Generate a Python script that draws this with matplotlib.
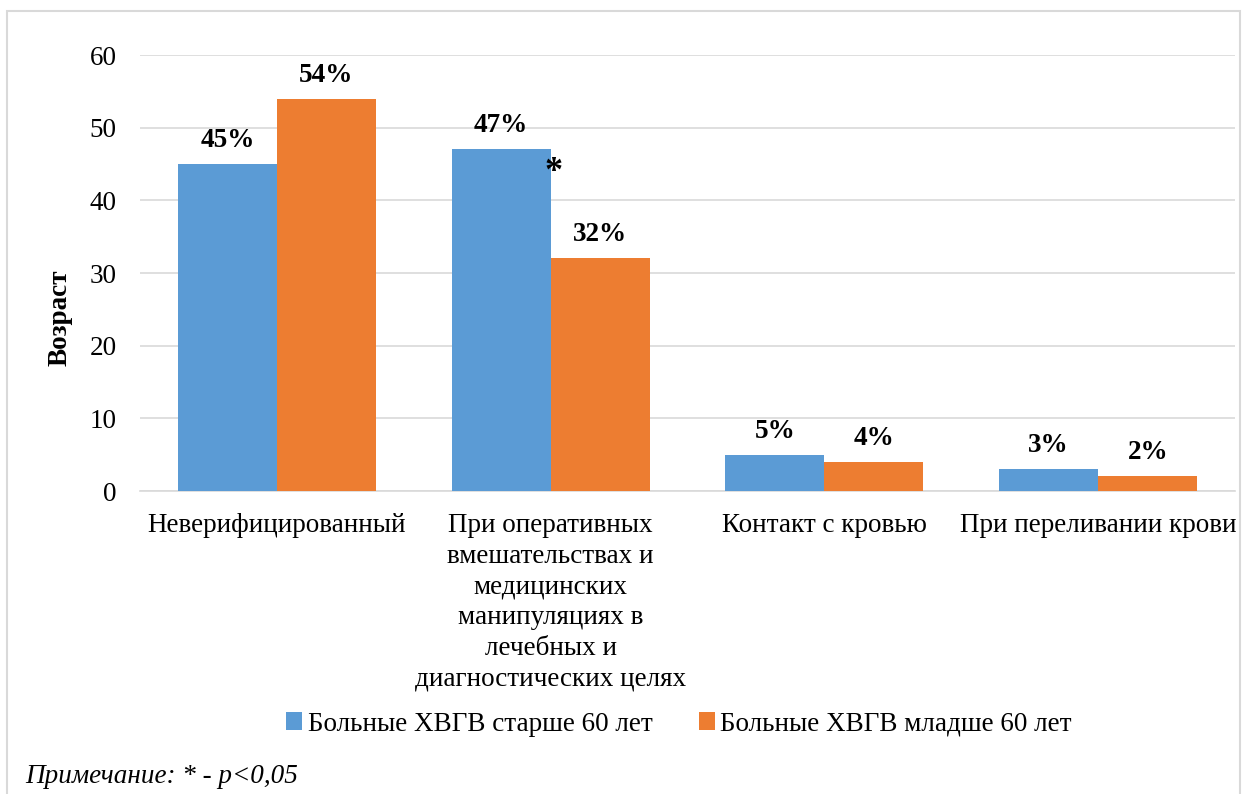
import numpy as np
import matplotlib.pyplot as plt
from matplotlib.patches import Rectangle

# data
categories = ['Неверифицированный',
              'При оперативных\nвмешательствах и\nмедицинских\nманипуляциях в\nлечебных и\nдиагностических целях',
              'Контакт с кровью',
              'При переливании крови']
older = [45, 47, 5, 3]
younger = [54, 32, 4, 2]
series_names = ['Больные ХВГВ старше 60 лет', 'Больные ХВГВ младше 60 лет']
yticks = [0, 10, 20, 30, 40, 50, 60]

blue = '#5b9bd5'
orange = '#ed7d31'
fs = 19.5

plt.rcParams['font.family'] = ['Liberation Serif', 'DejaVu Serif']

fig = plt.figure(figsize=(12.48, 7.94), dpi=100)
ax = fig.add_axes([0.1122, 0.3816, 0.8774, 0.5491])

x = np.arange(len(categories))
w = 0.362
b1 = ax.bar(x - w / 2, older, w, color=blue, label=series_names[0], zorder=2)
b2 = ax.bar(x + w / 2, younger, w, color=orange, label=series_names[1], zorder=2)

for bars, vals in [(b1, older), (b2, younger)]:
    for rect, v in zip(bars, vals):
        ax.annotate(f'{v}%', (rect.get_x() + rect.get_width() / 2, v),
                    xytext=(0, 8), textcoords='offset points',
                    ha='center', va='bottom', fontsize=fs, fontweight='bold')

# significance mark
ax.text(x[1] + 0.01, older[1] - 0.9, '*', fontsize=26, fontweight='bold',
        ha='center', va='top')

ax.set_xlim(-0.5, len(categories) - 0.5)
ax.set_ylim(0, 60)
ax.set_yticks(yticks)
ax.set_xticks(x)
ax.set_xticklabels(categories, fontsize=fs, linespacing=1.3)
ax.tick_params(axis='y', labelsize=fs, length=0, pad=17)
ax.tick_params(axis='x', length=0, pad=16)
ax.yaxis.grid(True, color='#d9d9d9', linewidth=1.2, zorder=0)
for s in ['top', 'right', 'left']:
    ax.spines[s].set_visible(False)
ax.spines['bottom'].set_color('#d9d9d9')
ax.spines['bottom'].set_linewidth(1.2)
ax.spines['bottom'].set_zorder(1)

ax.set_ylabel('Возраст', fontsize=fs, fontweight='bold')
ax.yaxis.set_label_coords(-0.062, 0.397)

fig.legend(handles=[b1, b2], loc='center', bbox_to_anchor=(0.544, 0.088),
           ncol=2, frameon=False, fontsize=fs, handlelength=0.6,
           handleheight=0.6, handletextpad=0.2, columnspacing=1.7)

fig.text(0.02, 0.022, 'Примечание: * - p<0,05', fontsize=fs, style='italic',
         ha='left', va='center')

# outer chart border
fig.patches.append(Rectangle((0.0056, -0.01), 0.988, 0.9962, transform=fig.transFigure,
                             fill=False, edgecolor='#d9d9d9', linewidth=1.5))

fig.savefig('out.png', dpi=100)
